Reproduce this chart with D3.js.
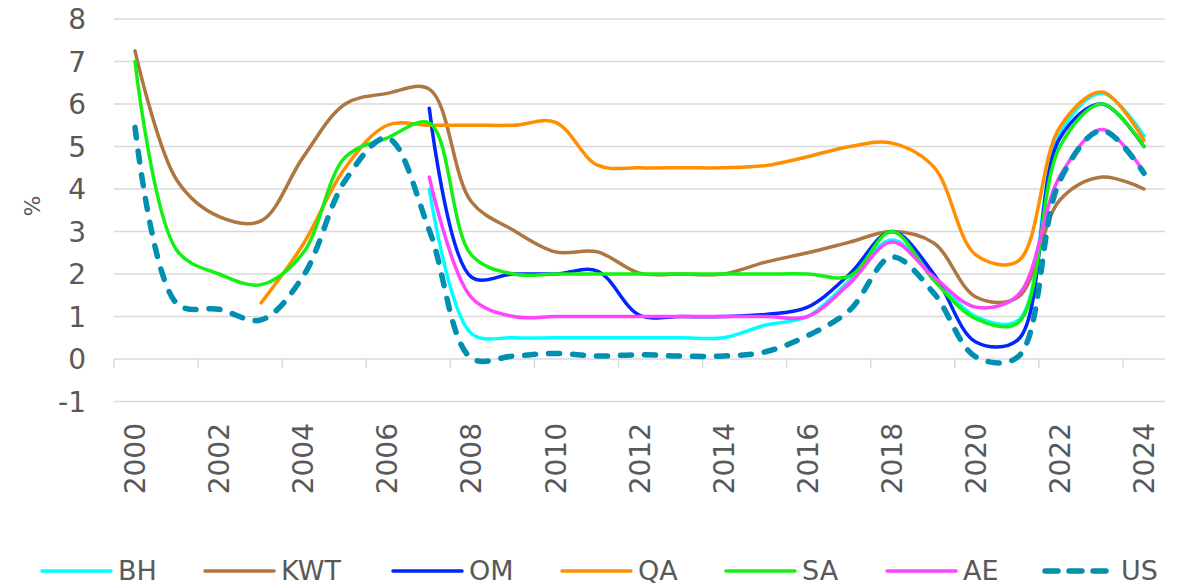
<!DOCTYPE html>
<html>
<head>
<meta charset="utf-8">
<script src="https://cdn.jsdelivr.net/npm/d3@7"></script>
<style>
  body { margin: 0; background: #fff; }
  text { font-family: "DejaVu Sans", Verdana, sans-serif; fill: #595959; }
</style>
</head>
<body>
<div id="chart"></div>
<script>
// years on the category axis
var years = d3.range(2000, 2025);
var yTicks = [-1, 0, 1, 2, 3, 4, 5, 6, 7, 8];

// values (null = no data)
var BH  = [null,null,null,null,null,null,null,4.0,0.6,0.5,0.5,0.5,0.5,0.5,0.5,0.8,1.0,1.85,2.8,1.95,1.0,0.9,5.3,6.25,5.25];
var KWT = [7.25,4.2,3.35,3.25,4.75,6.0,6.25,6.35,3.7,3.03,2.52,2.52,2.02,2.0,2.0,2.28,2.5,2.75,3.0,2.73,1.46,1.45,3.74,4.28,4.0];
var OM  = [null,null,null,null,null,null,null,5.9,1.93,2.0,2.0,2.07,1.03,1.0,1.0,1.05,1.22,2.0,3.0,2.0,0.4,0.45,5.2,6.0,5.0];
var QA  = [null,null,null,1.32,2.7,4.5,5.5,5.5,5.5,5.5,5.57,4.56,4.5,4.5,4.5,4.55,4.76,5.0,5.08,4.52,2.45,2.3,5.46,6.28,5.15];
var SA  = [7.0,2.55,2.0,1.75,2.5,4.75,5.2,5.55,2.45,2.0,2.0,2.0,2.0,2.0,2.0,2.0,2.0,1.95,3.0,1.85,0.95,0.85,5.0,6.0,5.0];
var AE  = [null,null,null,null,null,null,null,4.28,1.45,1.0,1.0,1.0,1.0,1.0,1.0,1.0,1.0,1.78,2.75,1.93,1.22,1.5,4.3,5.4,4.4];
var US  = [5.45,1.3,1.17,0.92,1.95,4.2,5.2,3.03,0.02,0.07,0.13,0.07,0.1,0.07,0.07,0.17,0.55,1.15,2.4,1.55,0.05,0.05,4.2,5.38,4.37];

var series = [
  { name: "BH",  values: BH,  color: "#00FFFF" },
  { name: "KWT", values: KWT, color: "#AE7640" },
  { name: "OM",  values: OM,  color: "#0026FF" },
  { name: "QA",  values: QA,  color: "#FF8F00" },
  { name: "SA",  values: SA,  color: "#14F014" },
  { name: "AE",  values: AE,  color: "#FF44FF" },
  { name: "US",  values: US,  color: "#008FB0", dashed: true }
];

var W = 1185, H = 587;
var plotL = 114, plotR = 1165, plotT = 19, plotB = 401.5;

var svg = d3.select("#chart").append("svg")
  .attr("width", W)
  .attr("height", H);

var x = d3.scaleBand().domain(years).range([plotL, plotR]);
var y = d3.scaleLinear().domain([-1, 8]).range([plotB, plotT]);

// horizontal gridlines
svg.append("g")
  .selectAll("line")
  .data(yTicks)
  .enter().append("line")
    .attr("x1", plotL).attr("x2", plotR)
    .attr("y1", function(d){ return y(d); })
    .attr("y2", function(d){ return y(d); })
    .attr("stroke", "#D9D9D9")
    .attr("stroke-width", 1.5);

// y tick labels
svg.append("g")
  .selectAll("text")
  .data(yTicks)
  .enter().append("text")
    .attr("x", 86)
    .attr("y", function(d){ return y(d); })
    .attr("dy", "0.36em")
    .attr("text-anchor", "end")
    .style("font-size", "28px")
    .text(function(d){ return d; });

svg.append("text")
  .attr("transform", "translate(40," + y(3.6) + ") rotate(-90)")
  .attr("text-anchor", "middle")
  .style("font-size", "22px")
  .text("%");

// tick marks on the zero line, every 2 categories
var tickYears = years.filter(function(d, i){ return i % 2 === 0; });
svg.append("g")
  .selectAll("line")
  .data(tickYears)
  .enter().append("line")
    .attr("x1", function(d){ return x(d); })
    .attr("x2", function(d){ return x(d); })
    .attr("y1", y(0))
    .attr("y2", y(0) + 9)
    .attr("stroke", "#D9D9D9")
    .attr("stroke-width", 1.5);

// rotated year labels
svg.append("g")
  .selectAll("text")
  .data(tickYears)
  .enter().append("text")
    .attr("transform", function(d){
      return "translate(" + (x(d) + x.bandwidth() / 2) + ",423) rotate(-90)";
    })
    .attr("dy", "0.36em")
    .attr("text-anchor", "end")
    .style("font-size", "28px")
    .text(function(d){ return d; });

var line = d3.line()
  .x(function(d){ return x(d.year) + x.bandwidth() / 2; })
  .y(function(d){ return y(d.v); })
  .curve(d3.curveCatmullRom.alpha(0.5));

series.forEach(function(s){
  var pts = years.map(function(yr, i){ return { year: yr, v: s.values[i] }; })
    .filter(function(d){ return d.v != null; });
  svg.append("path")
    .datum(pts)
    .attr("d", line)
    .attr("fill", "none")
    .attr("stroke", s.color)
    .attr("stroke-width", s.dashed ? 5.5 : 3.5)
    .attr("stroke-linecap", "round")
    .attr("stroke-dasharray", s.dashed ? "11,13" : null);
});

// legend
var legendX = [42, 205, 393, 562, 726, 887, 1045];
var legend = svg.append("g");
series.forEach(function(s, i){
  var lx = legendX[i];
  legend.append("line")
    .attr("x1", lx).attr("x2", lx + 69)
    .attr("y1", 571).attr("y2", 571)
    .attr("stroke", s.color)
    .attr("stroke-width", s.dashed ? 5.5 : 3.5)
    .attr("stroke-linecap", "round")
    .attr("stroke-dasharray", s.dashed ? "13,11" : null);
  legend.append("text")
    .attr("x", lx + 76)
    .attr("y", 570)
    .attr("dy", "0.36em")
    .style("font-size", "27px")
    .text(s.name);
});
</script>
</body>
</html>
